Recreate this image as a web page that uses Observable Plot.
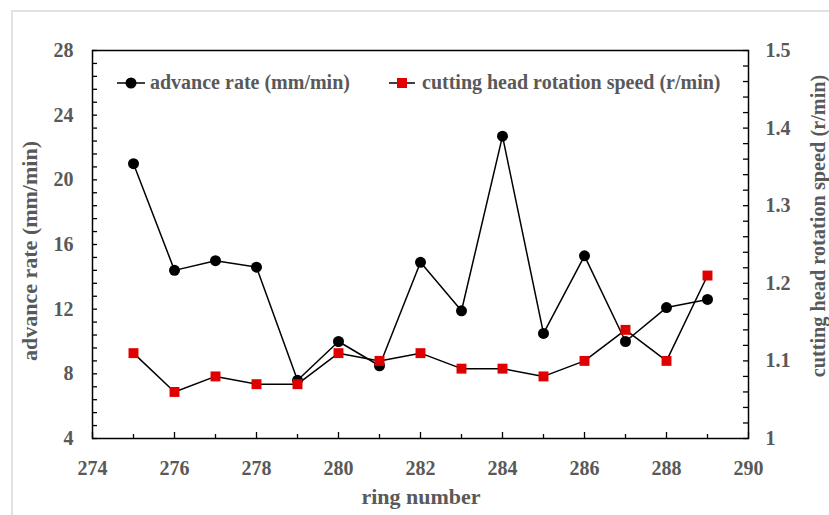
<!DOCTYPE html>
<html><head><meta charset="utf-8">
<script src="https://cdn.jsdelivr.net/npm/d3@7"></script>
<script src="https://cdn.jsdelivr.net/npm/@observablehq/plot@0.6"></script>
<style>
body{margin:0;background:#fff;}
#wrap{position:relative;width:829px;height:515px;overflow:hidden;background:#fff;}
#border{position:absolute;left:11px;top:10px;width:900px;height:600px;border-left:2px solid #e2e2e2;border-top:2px solid #e2e2e2;}
#chart{position:absolute;left:0;top:0;}
.t{position:absolute;font-family:"Liberation Serif",serif;font-weight:bold;color:#595959;font-size:22px;white-space:nowrap;line-height:1;}
.leg{position:absolute;display:flex;align-items:center;font-family:"Liberation Serif",serif;font-weight:bold;color:#595959;font-size:20px;white-space:nowrap;}
</style>
</head><body>
<div id="wrap">
<div id="border"></div>
<div id="chart"></div>
</div>
<script>
const rings = [275,276,277,278,279,280,281,282,283,284,285,286,287,288,289];
const advanceRate = [21.0,14.4,15.0,14.6,7.6,10.0,8.5,14.9,11.9,22.7,10.5,15.3,10.0,12.1,12.6];
const rotationSpeed = [1.11,1.06,1.08,1.07,1.07,1.11,1.10,1.11,1.09,1.09,1.08,1.10,1.14,1.10,1.21];
const xTicks = [274,276,278,280,282,284,286,288,290];
const xMinorTicks = [275,277,279,281,283,285,287,289];
const leftTicks = [4,8,12,16,20,24,28];
const rightTicks = [1,1.1,1.2,1.3,1.4,1.5];
const seriesNames = ["advance rate (mm/min)","cutting head rotation speed (r/min)"];
const xTitle = "ring number";

const W = 829, H = 515, mL = 92, mR = 81, mT = 50, mB = 77;
const pw = W - mL - mR, ph = H - mT - mB;
// map right axis (1..1.5) onto left (4..28)
const toLeft = v => 4 + (v - 1) * 48;
const fromLeft = v => (v - 4) / 48 + 1;

const adv = rings.map((r,i)=>({ring:r, v:advanceRate[i]}));
const spd = rings.map((r,i)=>({ring:r, v:toLeft(rotationSpeed[i])}));

const leftMinor = d3.range(4, 28.001, 0.8);
const rightMinor = d3.range(1, 1.5001, 0.02).map(toLeft);

const chart = Plot.plot({
  width: W, height: H,
  marginLeft: mL, marginRight: mR, marginTop: mT, marginBottom: mB,
  style: {fontFamily: "Liberation Serif, serif", fontWeight: "bold", color: "#595959", background: "transparent"},
  x: {domain: [274, 290], axis: null},
  y: {domain: [4, 28], axis: null},
  marks: [
    Plot.tickY(leftMinor, {y: d=>d, stroke: "black", strokeWidth: 1.3, insetRight: pw - 5}),
    Plot.tickY(rightMinor, {y: d=>d, stroke: "black", strokeWidth: 1.3, insetLeft: pw - 5}),
    Plot.tickX(xTicks, {x: d=>d, stroke: "black", strokeWidth: 1.3, insetTop: ph - 6}),
    Plot.tickX(xMinorTicks, {x: d=>d, stroke: "black", strokeWidth: 1.3, insetTop: ph - 4}),
    Plot.axisX(xTicks, {tickSize: 0, tickPadding: 22, fontSize: 20, label: null, tickFormat: d=>String(d)}),
    Plot.axisY(leftTicks, {anchor: "left", tickSize: 0, tickPadding: 19, fontSize: 20, label: null, tickFormat: d=>String(d)}),
    Plot.axisY(rightTicks.map(toLeft), {anchor: "right", tickSize: 0, tickPadding: 17, fontSize: 20, label: null,
      tickFormat: d => String(Math.round(fromLeft(d)*10)/10)}),
    Plot.frame({stroke: "black", strokeWidth: 1.5}),
    Plot.line(adv, {x: "ring", y: "v", stroke: "black", strokeWidth: 1.5}),
    Plot.dot(adv, {x: "ring", y: "v", r: 5.5, fill: "black", stroke: null}),
    Plot.line(spd, {x: "ring", y: "v", stroke: "black", strokeWidth: 1.5}),
    Plot.dot(spd, {x: "ring", y: "v", symbol: "square", r: 5.6, fill: "#e00000", stroke: null})
  ]
});
document.getElementById("chart").appendChild(chart);

const wrap = document.getElementById("wrap");
function addText(txt, css){ const d=document.createElement("div"); d.className="t"; d.textContent=txt; Object.assign(d.style, css); wrap.appendChild(d); return d; }
addText(xTitle, {left: "421px", top: "486px", transform: "translateX(-50%)"});
addText(seriesNames[0], {left: "30px", top: "251px", transform: "translate(-50%,-50%) rotate(-90deg)"});
addText(seriesNames[1], {left: "818px", top: "226px", fontSize: "20.3px", transform: "translate(-50%,-50%) rotate(-90deg)"});

function legendItem(left, top, markerSvg, txt){
  const d = document.createElement("div"); d.className="leg";
  d.style.left = left+"px"; d.style.top = top+"px";
  d.innerHTML = `<svg width="30" height="20" style="margin-right:4px">${markerSvg}</svg><span></span>`;
  d.querySelector("span").textContent = txt;
  wrap.appendChild(d);
}
legendItem(116, 71, `<line x1="1" x2="29" y1="10" y2="10" stroke="black" stroke-width="1.5"/><circle cx="15" cy="10" r="5.5" fill="black"/>`, seriesNames[0]);
legendItem(388, 71, `<line x1="1" x2="27" y1="10" y2="10" stroke="black" stroke-width="1.5"/><rect x="9" y="5" width="10" height="10" fill="#e00000"/>`, seriesNames[1]);
</script>
</body></html>
